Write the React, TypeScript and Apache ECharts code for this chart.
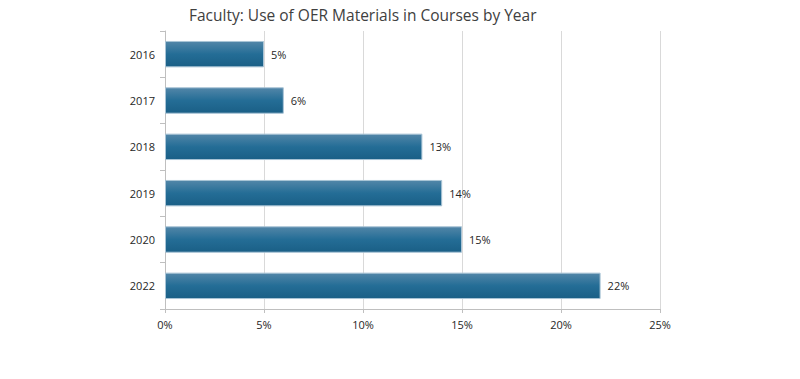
import React, { useEffect, useRef } from "react";
import * as echarts from "echarts";

const categories = ["2016", "2017", "2018", "2019", "2020", "2022"];
const values = [5, 6, 13, 14, 15, 22];
const xTicks = [0, 5, 10, 15, 20, 25];
const title = "Faculty: Use of OER Materials in Courses by Year";

export default function App() {
  const ref = useRef<HTMLDivElement>(null);
  useEffect(() => {
    if (!ref.current) return;
    const chart = echarts.init(ref.current, null, { renderer: "svg" });
    const font = "'Open Sans', 'Liberation Sans', sans-serif";
    chart.setOption({
      animation: false,
      backgroundColor: "#ffffff",
      title: {
        text: title,
        left: 184,
        top: 2,
        textStyle: { fontFamily: font, fontSize: 15.5, fontWeight: "normal", color: "#404040" },
      },
      grid: { left: 165, right: 140, top: 31, bottom: 70, containLabel: false },
      xAxis: {
        type: "value",
        min: xTicks[0],
        max: xTicks[xTicks.length - 1],
        interval: 5,
        axisLine: { show: true, lineStyle: { color: "#bfbfbf" } },
        axisTick: { show: true, length: 4, lineStyle: { color: "#bfbfbf" } },
        splitLine: { show: true, lineStyle: { color: "#d9d9d9" } },
        axisLabel: {
          formatter: "{value}%",
          color: "#262626",
          fontFamily: font,
          fontSize: 11,
          margin: 10,
        },
      },
      yAxis: {
        type: "category",
        data: categories,
        inverse: true,
        axisLine: { show: true, lineStyle: { color: "#bfbfbf" } },
        axisTick: { show: true, length: 5, lineStyle: { color: "#bfbfbf" } },
        axisLabel: { color: "#262626", fontFamily: font, fontSize: 11, margin: 10 },
      },
      series: [
        {
          type: "bar",
          data: values,
          barCategoryGap: "43%",
          itemStyle: {
            color: new echarts.graphic.LinearGradient(0, 0, 0, 1, [
              { offset: 0, color: "#5286a8" },
              { offset: 0.5, color: "#246d96" },
              { offset: 1, color: "#1a5f86" },
            ]),
            borderColor: "#a9c4d6",
            borderWidth: 1,
          },
          label: {
            show: true,
            position: "right",
            formatter: "{c}%",
            color: "#262626",
            fontFamily: font,
            fontSize: 11,
            distance: 7,
          },
        },
      ],
    });
    return () => chart.dispose();
  }, []);
  return <div ref={ref} style={{ width: 800, height: 379, position: "absolute", left: 0, top: 0 }} />;
}
